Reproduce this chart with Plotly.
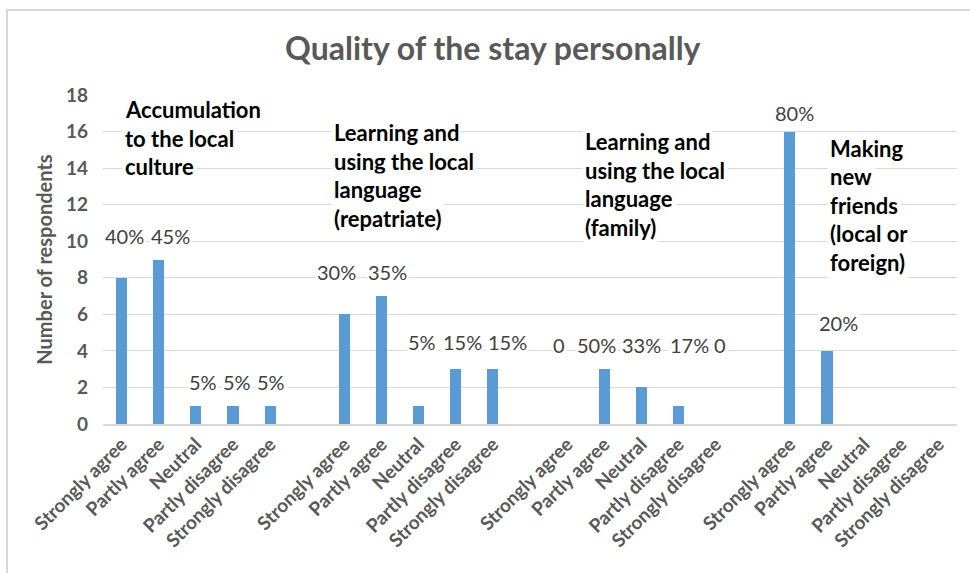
import plotly.graph_objects as go

# ---------------- data ----------------
title = "Quality of the stay personally"
y_title = "Number of respondents"
responses = ["Strongly agree", "Partly agree", "Neutral", "Partly disagree", "Strongly disagree"]
group_names = [
    "Accumulation<br>to the local<br>culture",
    "Learning and<br>using the local<br>language<br>(repatriate)",
    "Learning and<br>using the local<br>language<br>(family)",
    "Making<br>new<br>friends<br>(local or<br>foreign)",
]
counts_culture = [8, 9, 1, 1, 1]
counts_lang_repatriate = [6, 7, 1, 3, 3]
counts_lang_family = [0, 3, 2, 1, 0]
counts_friends = [16, 4, 0, 0, 0]
pct_culture = ["40%", "45%", "5%", "5%", "5%"]
pct_lang_repatriate = ["30%", "35%", "5%", "15%", "15%"]
pct_lang_family = ["0", "50%", "33%", "17%", "0"]
pct_friends = ["80%", "20%", "", "", ""]

all_counts = [counts_culture, counts_lang_repatriate, counts_lang_family, counts_friends]
all_pcts = [pct_culture, pct_lang_repatriate, pct_lang_family, pct_friends]

# ---------------- layout helpers (positions / styles) ----------------
Y_MAX = 18
SLOT = len(responses) + 1  # one empty slot between groups
# manual data-label placement (offset in category slots, height in axis units)
label_place = [
    [(0.09, 10.3), (0.33, 10.3), (0.19, 2.3), (0.11, 2.3), (0.02, 2.3)],
    [(-0.2, 8.3), (0.17, 8.3), (0.09, 4.5), (0.19, 4.5), (0.4, 4.5)],
    [(-0.22, 4.3), (-0.2, 4.3), (0.0, 4.3), (0.29, 4.3), (0.13, 4.3)],
    [(0.11, 17.0), (0.32, 5.5), (0, 0), (0, 0), (0, 0)],
]
# group title placement (left edge in slots relative to group start, top in axis units)
group_place = [(0.0, 18.1), (-0.37, 16.85), (0.39, 16.35), (0.99, 16.0)]
LINE_H = 1.56  # axis units between title lines

BAR = "#5B9BD5"
GREY = "#595959"
FONT = "Lato"

x_vals, y_vals, tickvals, ticktext = [], [], [], []
for g, counts in enumerate(all_counts):
    for i, c in enumerate(counts):
        x_vals.append(g * SLOT + i)
        y_vals.append(c)
        tickvals.append(g * SLOT + i)
        ticktext.append(responses[i])

fig = go.Figure()
fig.add_trace(go.Bar(x=x_vals, y=y_vals, marker_color=BAR, width=0.3,
                     marker_line_width=0, hoverinfo="x+y", showlegend=False))

annotations = []
for g, pcts in enumerate(all_pcts):
    for i, t in enumerate(pcts):
        if not t:
            continue
        dx, yy = label_place[g][i]
        annotations.append(dict(x=g * SLOT + i + dx, y=yy, xref="x", yref="y", text=t,
                                showarrow=False, bgcolor="white", borderpad=1,
                                font=dict(family=FONT, size=20, color="#404040")))

for g, name in enumerate(group_names):
    gx, gy = group_place[g]
    for k, line in enumerate(name.split("<br>")):
        annotations.append(dict(x=g * SLOT + gx, y=(gy - k * LINE_H) / Y_MAX, xref="x", yref="paper",
                                text="<b>" + line + "</b>", showarrow=False,
                                xanchor="left", yanchor="top", bgcolor="white", borderpad=2,
                                font=dict(family=FONT, size=22, color="#000000")))

fig.update_layout(
    width=970, height=573,
    margin=dict(l=103, r=13, t=95, b=149),
    paper_bgcolor="white", plot_bgcolor="white",
    title=dict(text="<b>" + title + "</b>", x=0.508, xanchor="center", y=0.915, yanchor="middle",
               font=dict(family=FONT, size=32, color=GREY)),
    font=dict(family=FONT, color=GREY),
    xaxis=dict(range=[-0.5, len(all_counts) * SLOT - 1.5], tickmode="array",
               tickvals=tickvals, ticktext=["<b>" + t + "</b>" for t in ticktext],
               tickangle=-45, tickfont=dict(family=FONT, size=19, color=GREY),
               showgrid=False, showline=True, linecolor="#d9d9d9", linewidth=1.5,
               ticks="", zeroline=False, fixedrange=True, automargin=False),
    yaxis=dict(range=[0, Y_MAX], dtick=2, showgrid=True, gridcolor="#d9d9d9", gridwidth=1,
               zeroline=False, showline=False, ticks="", ticklabelstandoff=14,
               tickfont=dict(family=FONT, size=19, color=GREY),
               tickprefix="<b>", ticksuffix="</b>",
               title=dict(text="<b>" + y_title + "</b>", standoff=7,
                          font=dict(family=FONT, size=20, color=GREY)),
               fixedrange=True, automargin=False),
    annotations=annotations,
    shapes=[dict(type="rect", xref="paper", yref="paper", x0=-0.1124, x1=1.03, y0=-0.5, y1=1.258,
                 line=dict(color="#d9d9d9", width=2), fillcolor="rgba(0,0,0,0)", layer="below")],
    bargap=0,
)

fig.write_html("out.html", config={"displayModeBar": False},
               post_script="document.body.style.margin='0';")
